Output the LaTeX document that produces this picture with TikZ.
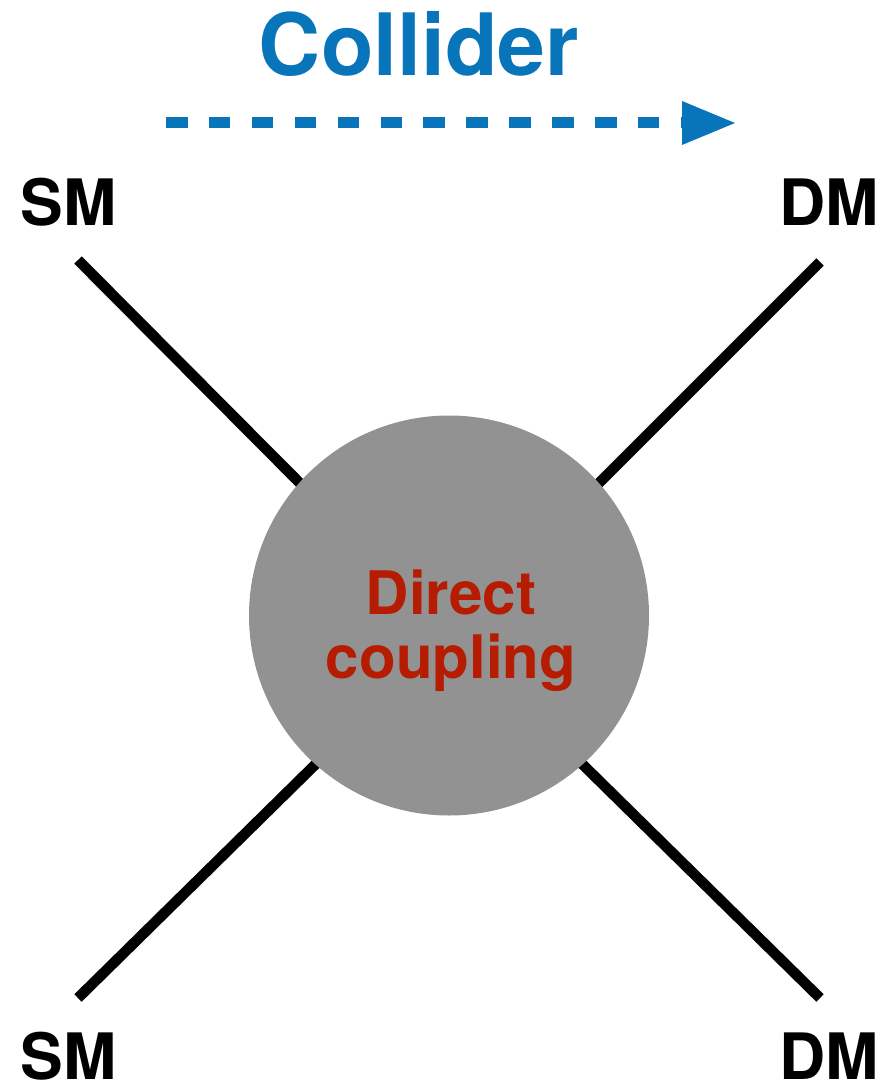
\documentclass[tikz,border=0pt]{standalone}
\usepackage{xcolor}
\usepackage{fontspec}
\setmainfont{TeX Gyre Heros}
\usepackage{tikz}
\usetikzlibrary{arrows.meta}
\definecolor{colblue}{RGB}{8,116,186}
\definecolor{colred}{RGB}{182,28,2}
\definecolor{blobgray}{RGB}{146,146,146}

\begin{document}
\begin{tikzpicture}[x=1pt, y=-1pt,
    particle/.style={inner sep=0pt, font=\fontsize{64}{64}\selectfont\bfseries},
    leg/.style={line width=10.5pt}]
    \useasboundingbox (0,0) rectangle (880,1086);

    \node[inner sep=0pt, anchor=base, text=colblue, font=\fontsize{86}{86}\selectfont\bfseries] at (419,76) (coll) {Collider};
    \coordinate (a0) at (166,123);
    \coordinate (a1) at (735,123);
    \draw[colblue, line width=11pt, dash pattern=on 21.5pt off 21.4pt,
        -{Triangle[length=53pt, width=44pt, line width=0pt]}] (a0) -- (a1);

    \node[particle, anchor=base west] at (20.5,225) (sm1) {SM};
    \node[particle, anchor=base east] at (879,225) (dm1) {DM};
    \node[particle, anchor=base west] at (20.5,1079) (sm2) {SM};
    \node[particle, anchor=base east] at (879,1079) (dm2) {DM};

    \coordinate (v) at (449,633);
    \coordinate (tl) at (78,260);
    \coordinate (tr) at (820,262);
    \coordinate (bl) at (78,998);
    \coordinate (br) at (820,998);

    \draw[leg] (tl) -- (v);
    \draw[leg] (tr) -- (v);
    \draw[leg] (bl) -- (v);
    \draw[leg] (br) -- (v);

    \node[circle, fill=blobgray, minimum size=400pt, inner sep=0pt] at (449,615.5) (blob) {};
    \node[inner sep=0pt, anchor=base, align=center, text=colred,
        font=\fontsize{60}{64}\selectfont\bfseries] at (451,678) (dc) {Direct\\coupling};
\end{tikzpicture}
\end{document}
